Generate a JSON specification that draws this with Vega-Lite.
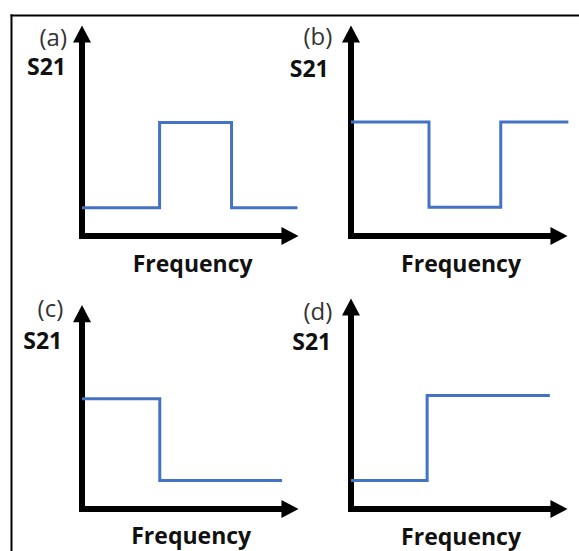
{
  "$schema": "https://vega.github.io/schema/vega-lite/v6.json",
  "padding": {"left": 10, "top": 14, "right": 0, "bottom": 0},
  "background": "white",
  "bounds": "flush",
  "columns": 2,
  "spacing": {"row": 71, "column": 61},
  "config": {"view": {"stroke": null}, "font": "Open Sans"},
  "datasets": {
    "curves": [
      {"panel": "a", "i": 0, "f": 0, "s": 1.4},
      {"panel": "a", "i": 1, "f": 3.73, "s": 5.62},
      {"panel": "a", "i": 2, "f": 7.19, "s": 1.4},
      {"panel": "a", "i": 3, "f": 10.36, "s": 1.4},
      {"panel": "b", "i": 0, "f": 0, "s": 5.64},
      {"panel": "b", "i": 1, "f": 3.75, "s": 1.42},
      {"panel": "b", "i": 2, "f": 7.2, "s": 5.64},
      {"panel": "b", "i": 3, "f": 10.45, "s": 5.64},
      {"panel": "c", "i": 0, "f": 0, "s": 5.46},
      {"panel": "c", "i": 1, "f": 3.74, "s": 1.41},
      {"panel": "c", "i": 2, "f": 9.62, "s": 1.41},
      {"panel": "d", "i": 0, "f": 0, "s": 1.41},
      {"panel": "d", "i": 1, "f": 3.66, "s": 5.62},
      {"panel": "d", "i": 2, "f": 9.56, "s": 5.62}
    ],
    "axes": [
      {"panel": "a", "f": 0, "s": 0, "f2": 10, "s2": 0},
      {"panel": "a", "f": 0, "s": 0, "f2": 0, "s2": 10},
      {"panel": "b", "f": 0, "s": 0, "f2": 10, "s2": 0},
      {"panel": "b", "f": 0, "s": 0, "f2": 0, "s2": 10},
      {"panel": "c", "f": 0, "s": 0, "f2": 10, "s2": 0},
      {"panel": "c", "f": 0, "s": 0, "f2": 0, "s2": 9.67},
      {"panel": "d", "f": 0, "s": 0, "f2": 10, "s2": 0},
      {"panel": "d", "f": 0, "s": 0, "f2": 0, "s2": 10}
    ],
    "arrows": [
      {"panel": "a", "f": 10, "s": 0, "dir": "right"},
      {"panel": "a", "f": 0, "s": 10, "dir": "up"},
      {"panel": "b", "f": 10, "s": 0, "dir": "right"},
      {"panel": "b", "f": 0, "s": 10, "dir": "up"},
      {"panel": "c", "f": 10, "s": 0, "dir": "right"},
      {"panel": "c", "f": 0, "s": 9.67, "dir": "up"},
      {"panel": "d", "f": 10, "s": 0, "dir": "right"},
      {"panel": "d", "f": 0, "s": 10, "dir": "up"}
    ],
    "labels": [
      {"panel": "a", "kind": "tag", "label": "(a)", "f": -0.72, "s": 9.75},
      {"panel": "a", "kind": "y", "label": "S21", "f": -0.77, "s": 8.3},
      {"panel": "a", "kind": "x", "label": "Frequency", "f": 5.32, "s": -1.46},
      {"panel": "b", "kind": "tag", "label": "(b)", "f": -0.9, "s": 9.78},
      {"panel": "b", "kind": "y", "label": "S21", "f": -1.07, "s": 8.22},
      {"panel": "b", "kind": "x", "label": "Frequency", "f": 5.29, "s": -1.46},
      {"panel": "c", "kind": "tag", "label": "(c)", "f": -0.9, "s": 9.84},
      {"panel": "c", "kind": "y", "label": "S21", "f": -0.95, "s": 8.26},
      {"panel": "c", "kind": "x", "label": "Frequency", "f": 5.25, "s": -1.39},
      {"panel": "d", "kind": "tag", "label": "(d)", "f": -0.9, "s": 9.7},
      {"panel": "d", "kind": "y", "label": "S21", "f": -0.95, "s": 8.22},
      {"panel": "d", "kind": "x", "label": "Frequency", "f": 5.29, "s": -1.46}
    ],
    "frame": [
      {"f": -3.39, "s": 10.916, "f2": 23.87, "s2": 10.916},
      {"f": -3.39, "s": 10.916, "f2": -3.39, "s2": -15.57}
    ]
  },
  "concat": [
    {
      "width": 208, "height": 202,
      "layer": [
        {
          "data": {"name": "frame"},
          "mark": {"type": "rule", "color": "black", "strokeWidth": 2, "strokeCap": "square"},
          "encoding": {
            "x": {"field": "f", "type": "quantitative", "scale": {"domain": [0, 10], "nice": false, "zero": false}, "axis": null},
            "y": {"field": "s", "type": "quantitative", "scale": {"domain": [0, 10], "nice": false, "zero": false}, "axis": null},
            "x2": {"field": "f2"}, "y2": {"field": "s2"}
          }
        },
        {
          "data": {"name": "axes"},
          "transform": [{"filter": "datum.panel === 'a'"}],
          "mark": {"type": "rule", "color": "black", "strokeWidth": 6, "strokeCap": "square"},
          "encoding": {
            "x": {"field": "f", "type": "quantitative", "axis": null},
            "y": {"field": "s", "type": "quantitative", "axis": null},
            "x2": {"field": "f2"}, "y2": {"field": "s2"}
          }
        },
        {
          "data": {"name": "arrows"},
          "transform": [{"filter": "datum.panel === 'a'"}],
          "mark": {"type": "point", "filled": true, "opacity": 1, "color": "black", "size": 324, "strokeWidth": 0},
          "encoding": {
            "x": {"field": "f", "type": "quantitative", "axis": null},
            "y": {"field": "s", "type": "quantitative", "axis": null},
            "shape": {"field": "dir", "type": "nominal", "legend": null, "scale": {"domain": ["up", "right"], "range": ["M-1,0.95L1,0.95L0,-0.95Z", "M-0.95,-1L0.95,0L-0.95,1Z"]}}
          }
        },
        {
          "data": {"name": "curves"},
          "transform": [{"filter": "datum.panel === 'a'"}],
          "mark": {"type": "line", "interpolate": "step-after", "color": "#4472C4", "strokeWidth": 3},
          "encoding": {
            "x": {"field": "f", "type": "quantitative", "axis": null},
            "y": {"field": "s", "type": "quantitative", "axis": null},
            "order": {"field": "i"}
          }
        },
        {
          "data": {"name": "labels"},
          "transform": [{"filter": "datum.panel === 'a' && datum.kind === 'tag'"}],
          "mark": {"type": "text", "align": "right", "baseline": "middle", "font": "Open Sans", "fontSize": 24, "color": "#333333"},
          "encoding": {
            "x": {"field": "f", "type": "quantitative", "axis": null},
            "y": {"field": "s", "type": "quantitative", "axis": null},
            "text": {"field": "label"}
          }
        },
        {
          "data": {"name": "labels"},
          "transform": [{"filter": "datum.panel === 'a' && datum.kind === 'y'"}],
          "mark": {"type": "text", "align": "right", "baseline": "middle", "font": "Open Sans", "fontSize": 23, "fontWeight": "bold", "color": "#111111"},
          "encoding": {
            "x": {"field": "f", "type": "quantitative", "axis": null},
            "y": {"field": "s", "type": "quantitative", "axis": null},
            "text": {"field": "label"}
          }
        },
        {
          "data": {"name": "labels"},
          "transform": [{"filter": "datum.panel === 'a' && datum.kind === 'x'"}],
          "mark": {"type": "text", "align": "center", "baseline": "middle", "font": "Open Sans", "fontSize": 23, "fontWeight": "bold", "color": "#111111"},
          "encoding": {
            "x": {"field": "f", "type": "quantitative", "axis": null},
            "y": {"field": "s", "type": "quantitative", "axis": null},
            "text": {"field": "label"}
          }
        }
      ]
    },
    {
      "width": 208, "height": 202,
      "layer": [
        {
          "data": {"name": "axes"},
          "transform": [{"filter": "datum.panel === 'b'"}],
          "mark": {"type": "rule", "color": "black", "strokeWidth": 6, "strokeCap": "square"},
          "encoding": {
            "x": {"field": "f", "type": "quantitative", "scale": {"domain": [0, 10], "nice": false, "zero": false}, "axis": null},
            "y": {"field": "s", "type": "quantitative", "scale": {"domain": [0, 10], "nice": false, "zero": false}, "axis": null},
            "x2": {"field": "f2"}, "y2": {"field": "s2"}
          }
        },
        {
          "data": {"name": "arrows"},
          "transform": [{"filter": "datum.panel === 'b'"}],
          "mark": {"type": "point", "filled": true, "opacity": 1, "color": "black", "size": 324, "strokeWidth": 0},
          "encoding": {
            "x": {"field": "f", "type": "quantitative", "axis": null},
            "y": {"field": "s", "type": "quantitative", "axis": null},
            "shape": {"field": "dir", "type": "nominal", "legend": null, "scale": {"domain": ["up", "right"], "range": ["M-1,0.95L1,0.95L0,-0.95Z", "M-0.95,-1L0.95,0L-0.95,1Z"]}}
          }
        },
        {
          "data": {"name": "curves"},
          "transform": [{"filter": "datum.panel === 'b'"}],
          "mark": {"type": "line", "interpolate": "step-after", "color": "#4472C4", "strokeWidth": 3},
          "encoding": {
            "x": {"field": "f", "type": "quantitative", "axis": null},
            "y": {"field": "s", "type": "quantitative", "axis": null},
            "order": {"field": "i"}
          }
        },
        {
          "data": {"name": "labels"},
          "transform": [{"filter": "datum.panel === 'b' && datum.kind === 'tag'"}],
          "mark": {"type": "text", "align": "right", "baseline": "middle", "font": "Open Sans", "fontSize": 24, "color": "#333333"},
          "encoding": {
            "x": {"field": "f", "type": "quantitative", "axis": null},
            "y": {"field": "s", "type": "quantitative", "axis": null},
            "text": {"field": "label"}
          }
        },
        {
          "data": {"name": "labels"},
          "transform": [{"filter": "datum.panel === 'b' && datum.kind === 'y'"}],
          "mark": {"type": "text", "align": "right", "baseline": "middle", "font": "Open Sans", "fontSize": 23, "fontWeight": "bold", "color": "#111111"},
          "encoding": {
            "x": {"field": "f", "type": "quantitative", "axis": null},
            "y": {"field": "s", "type": "quantitative", "axis": null},
            "text": {"field": "label"}
          }
        },
        {
          "data": {"name": "labels"},
          "transform": [{"filter": "datum.panel === 'b' && datum.kind === 'x'"}],
          "mark": {"type": "text", "align": "center", "baseline": "middle", "font": "Open Sans", "fontSize": 23, "fontWeight": "bold", "color": "#111111"},
          "encoding": {
            "x": {"field": "f", "type": "quantitative", "axis": null},
            "y": {"field": "s", "type": "quantitative", "axis": null},
            "text": {"field": "label"}
          }
        }
      ]
    },
    {
      "width": 208, "height": 202,
      "layer": [
        {
          "data": {"name": "axes"},
          "transform": [{"filter": "datum.panel === 'c'"}],
          "mark": {"type": "rule", "color": "black", "strokeWidth": 6, "strokeCap": "square"},
          "encoding": {
            "x": {"field": "f", "type": "quantitative", "scale": {"domain": [0, 10], "nice": false, "zero": false}, "axis": null},
            "y": {"field": "s", "type": "quantitative", "scale": {"domain": [0, 10], "nice": false, "zero": false}, "axis": null},
            "x2": {"field": "f2"}, "y2": {"field": "s2"}
          }
        },
        {
          "data": {"name": "arrows"},
          "transform": [{"filter": "datum.panel === 'c'"}],
          "mark": {"type": "point", "filled": true, "opacity": 1, "color": "black", "size": 324, "strokeWidth": 0},
          "encoding": {
            "x": {"field": "f", "type": "quantitative", "axis": null},
            "y": {"field": "s", "type": "quantitative", "axis": null},
            "shape": {"field": "dir", "type": "nominal", "legend": null, "scale": {"domain": ["up", "right"], "range": ["M-1,0.95L1,0.95L0,-0.95Z", "M-0.95,-1L0.95,0L-0.95,1Z"]}}
          }
        },
        {
          "data": {"name": "curves"},
          "transform": [{"filter": "datum.panel === 'c'"}],
          "mark": {"type": "line", "interpolate": "step-after", "color": "#4472C4", "strokeWidth": 3},
          "encoding": {
            "x": {"field": "f", "type": "quantitative", "axis": null},
            "y": {"field": "s", "type": "quantitative", "axis": null},
            "order": {"field": "i"}
          }
        },
        {
          "data": {"name": "labels"},
          "transform": [{"filter": "datum.panel === 'c' && datum.kind === 'tag'"}],
          "mark": {"type": "text", "align": "right", "baseline": "middle", "font": "Open Sans", "fontSize": 24, "color": "#333333"},
          "encoding": {
            "x": {"field": "f", "type": "quantitative", "axis": null},
            "y": {"field": "s", "type": "quantitative", "axis": null},
            "text": {"field": "label"}
          }
        },
        {
          "data": {"name": "labels"},
          "transform": [{"filter": "datum.panel === 'c' && datum.kind === 'y'"}],
          "mark": {"type": "text", "align": "right", "baseline": "middle", "font": "Open Sans", "fontSize": 23, "fontWeight": "bold", "color": "#111111"},
          "encoding": {
            "x": {"field": "f", "type": "quantitative", "axis": null},
            "y": {"field": "s", "type": "quantitative", "axis": null},
            "text": {"field": "label"}
          }
        },
        {
          "data": {"name": "labels"},
          "transform": [{"filter": "datum.panel === 'c' && datum.kind === 'x'"}],
          "mark": {"type": "text", "align": "center", "baseline": "middle", "font": "Open Sans", "fontSize": 23, "fontWeight": "bold", "color": "#111111"},
          "encoding": {
            "x": {"field": "f", "type": "quantitative", "axis": null},
            "y": {"field": "s", "type": "quantitative", "axis": null},
            "text": {"field": "label"}
          }
        }
      ]
    },
    {
      "width": 208, "height": 202,
      "layer": [
        {
          "data": {"name": "axes"},
          "transform": [{"filter": "datum.panel === 'd'"}],
          "mark": {"type": "rule", "color": "black", "strokeWidth": 6, "strokeCap": "square"},
          "encoding": {
            "x": {"field": "f", "type": "quantitative", "scale": {"domain": [0, 10], "nice": false, "zero": false}, "axis": null},
            "y": {"field": "s", "type": "quantitative", "scale": {"domain": [0, 10], "nice": false, "zero": false}, "axis": null},
            "x2": {"field": "f2"}, "y2": {"field": "s2"}
          }
        },
        {
          "data": {"name": "arrows"},
          "transform": [{"filter": "datum.panel === 'd'"}],
          "mark": {"type": "point", "filled": true, "opacity": 1, "color": "black", "size": 324, "strokeWidth": 0},
          "encoding": {
            "x": {"field": "f", "type": "quantitative", "axis": null},
            "y": {"field": "s", "type": "quantitative", "axis": null},
            "shape": {"field": "dir", "type": "nominal", "legend": null, "scale": {"domain": ["up", "right"], "range": ["M-1,0.95L1,0.95L0,-0.95Z", "M-0.95,-1L0.95,0L-0.95,1Z"]}}
          }
        },
        {
          "data": {"name": "curves"},
          "transform": [{"filter": "datum.panel === 'd'"}],
          "mark": {"type": "line", "interpolate": "step-after", "color": "#4472C4", "strokeWidth": 3},
          "encoding": {
            "x": {"field": "f", "type": "quantitative", "axis": null},
            "y": {"field": "s", "type": "quantitative", "axis": null},
            "order": {"field": "i"}
          }
        },
        {
          "data": {"name": "labels"},
          "transform": [{"filter": "datum.panel === 'd' && datum.kind === 'tag'"}],
          "mark": {"type": "text", "align": "right", "baseline": "middle", "font": "Open Sans", "fontSize": 24, "color": "#333333"},
          "encoding": {
            "x": {"field": "f", "type": "quantitative", "axis": null},
            "y": {"field": "s", "type": "quantitative", "axis": null},
            "text": {"field": "label"}
          }
        },
        {
          "data": {"name": "labels"},
          "transform": [{"filter": "datum.panel === 'd' && datum.kind === 'y'"}],
          "mark": {"type": "text", "align": "right", "baseline": "middle", "font": "Open Sans", "fontSize": 23, "fontWeight": "bold", "color": "#111111"},
          "encoding": {
            "x": {"field": "f", "type": "quantitative", "axis": null},
            "y": {"field": "s", "type": "quantitative", "axis": null},
            "text": {"field": "label"}
          }
        },
        {
          "data": {"name": "labels"},
          "transform": [{"filter": "datum.panel === 'd' && datum.kind === 'x'"}],
          "mark": {"type": "text", "align": "center", "baseline": "middle", "font": "Open Sans", "fontSize": 23, "fontWeight": "bold", "color": "#111111"},
          "encoding": {
            "x": {"field": "f", "type": "quantitative", "axis": null},
            "y": {"field": "s", "type": "quantitative", "axis": null},
            "text": {"field": "label"}
          }
        }
      ]
    }
  ]
}
